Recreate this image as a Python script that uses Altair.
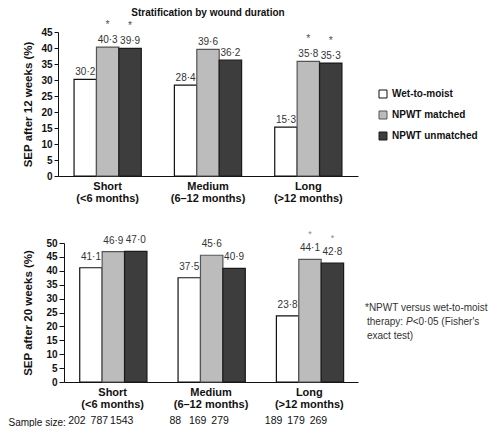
import altair as alt
import pandas as pd

categories = ["Short", "Medium", "Long"]
durations = ["(<6 months)", "(6–12 months)", "(>12 months)"]
series = ["Wet-to-moist", "NPWT matched", "NPWT unmatched"]
sep_12 = [[30.2, 40.3, 39.9], [28.4, 39.6, 36.2], [15.3, 35.8, 35.3]]
sep_20 = [[41.1, 46.9, 47.0], [37.5, 45.6, 40.9], [23.8, 44.1, 42.8]]
sig_12 = [[False, True, True], [False, False, False], [False, True, True]]
sig_20 = [[False, False, False], [False, False, False], [False, True, True]]
sample_sizes = [[202, 787, 1543], [88, 169, 279], [189, 179, 269]]
footnote = ["*NPWT versus wet-to-moist", "therapy: ", "P", "<0·05 (Fisher's", "exact test)"]

fills = ["#ffffff", "#bcbcbc", "#3d3d3d"]
strokes = ["#111111", "#555555", "#1a1a1a"]
cat_labels = [c + "|" + d for c, d in zip(categories, durations)]


def frame(vals, sig):
    rows = []
    for i, cl in enumerate(cat_labels):
        for j, s in enumerate(series):
            rows.append({
                "cat": cl,
                "series": s,
                "v": vals[i][j],
                "lab": f"{vals[i][j]:.1f}".replace(".", "·"),
                "sig": sig[i][j],
                "n": str(sample_sizes[i][j]),
            })
    return pd.DataFrame(rows)


df12 = frame(sep_12, sig_12)
df20 = frame(sep_20, sig_20)

legend = alt.Legend(
    title=None, orient="none", legendX=320, legendY=57,
    symbolType="square", symbolSize=64, symbolStrokeWidth=1,
    labelFontSize=10, labelFontWeight="bold", labelColor="#111",
    rowPadding=9, labelOffset=4,
)
fill_enc = alt.Fill("series:N", sort=series,
                    scale=alt.Scale(domain=series, range=fills), legend=legend)
stroke_enc = alt.Stroke("series:N", sort=series,
                        scale=alt.Scale(domain=series, range=strokes), legend=legend)
xoff = alt.XOffset("series:N", sort=series,
                   scale=alt.Scale(paddingInner=0, paddingOuter=0))


def panel(df, ymax, ytitle, width, height, xrange, yoffset, tick, tpad,
          lab_dy, star_dy, star_size, star_color, bottom=False):
    xaxis = alt.Axis(
        title="Sample size:" if bottom else None,
        labelExpr="split(datum.label, '|')",
        ticks=False, labelAngle=0, labelFontSize=11, labelFontWeight="bold",
        labelColor="#111", labelPadding=4, labelLineHeight=12.5,
        labelBaseline="top", domainColor="#111",
        **({"titleX": -50, "titleY": 43, "titleAlign": "left",
            "titleAnchor": "start", "titleBaseline": "alphabetic",
            "titleFontWeight": "normal", "titleFontSize": 10,
            "titleColor": "#111"} if bottom else {}),
    )
    xscale = alt.Scale(paddingInner=0.33, paddingOuter=0.16,
                       **({"range": xrange} if xrange else {}))
    x = alt.X("cat:N", sort=cat_labels, scale=xscale, axis=xaxis)
    y = alt.Y("v:Q", scale=alt.Scale(domain=[0, ymax], nice=False),
              axis=alt.Axis(
                  title=ytitle, values=list(range(0, ymax + 1, 5)),
                  labelOverlap=False,
                  grid=False, offset=yoffset, tickSize=tick, labelPadding=2,
                  labelFontSize=10, labelFontWeight="bold", labelColor="#111",
                  tickColor="#111", domainColor="#111",
                  titleFontSize=11.5, titleFontWeight="bold", titleColor="#111",
                  titlePadding=tpad))
    base = alt.Chart(df)
    bars = base.mark_bar(strokeWidth=1.2).encode(
        x=x, xOffset=xoff, y=y, fill=fill_enc, stroke=stroke_enc)
    labels = base.mark_text(baseline="alphabetic", dy=lab_dy, fontSize=10,
                            color="#333").encode(
        x=x, xOffset=xoff, y=y, text="lab:N")
    stars = base.transform_filter("datum.sig").mark_text(
        baseline="alphabetic", dy=star_dy, fontSize=star_size,
        color=star_color).encode(x=x, xOffset=xoff, y=y, text=alt.value("*"))
    layers = [bars, labels, stars]
    if bottom:
        nums = base.mark_text(baseline="middle", dx=-14, fontSize=10.5,
                              color="#111").encode(
            x=x, xOffset=xoff, y=alt.value(178), text="n:N")
        layers.append(nums)
        fx = 309
        specs = [
            (footnote[0], fx - 2, 65, "normal"),
            (footnote[1], fx, 79, "normal"),
            (footnote[2], fx + 39, 79, "italic"),
            (footnote[3], fx + 45.7, 79, "normal"),
            (footnote[4], fx, 93, "normal"),
        ]
        for txt, px, py, style in specs:
            layers.append(
                alt.Chart(pd.DataFrame({"t": [txt]})).mark_text(
                    align="left", baseline="middle", fontSize=10,
                    color="#333", fontStyle=style).encode(
                    text="t:N", x=alt.value(px), y=alt.value(py)))
    return alt.layer(*layers).properties(width=width, height=height)


top = panel(df12, 45, "SEP after 12 weeks (%)", 300, 144, None, 0, 4, 7,
            -4.5, -19, 10.5, "#555").properties(
    title=alt.TitleParams("Stratification by wound duration", fontSize=10,
                          fontWeight="bold", anchor="middle", offset=2,
                          color="#111"))
bottom = panel(df20, 50, "SEP after 20 weeks (%)", 300, 139, [6, 300], -6, 5,
               12.5, -8, -22, 9, "#888", bottom=True)

chart = alt.vconcat(top, bottom, spacing=67, bounds="flush").configure(
    font="Liberation Sans", padding=0
).configure_view(stroke=None)

chart.save("out.html", embed_options={"renderer": "svg", "actions": False})
